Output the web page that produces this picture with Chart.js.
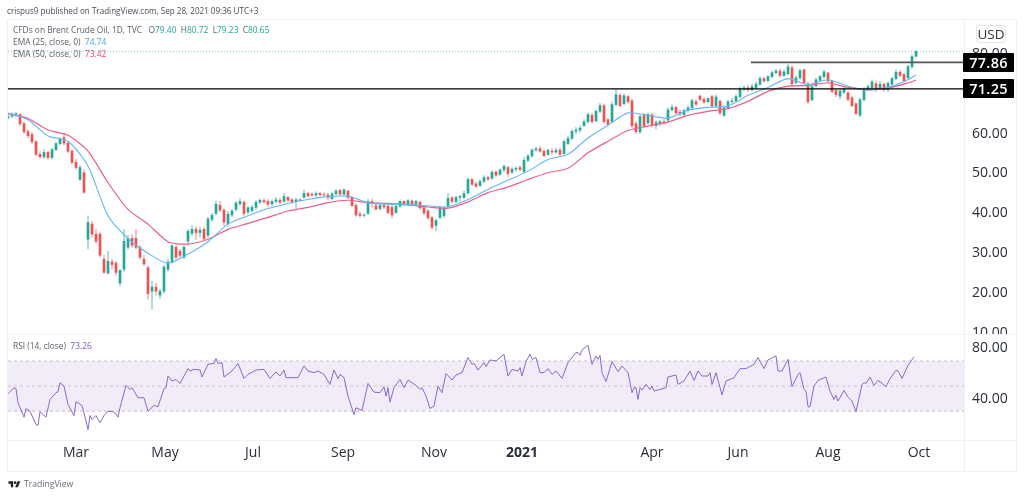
<!DOCTYPE html>
<html><head><meta charset="utf-8">
<style>
html,body{margin:0;padding:0;background:#fff;width:1024px;height:496px;overflow:hidden;font-family:"Open Sans",sans-serif}
#wrap{position:relative;width:1024px;height:496px}
canvas{position:absolute;left:0;top:0}
.t{position:absolute;white-space:pre;font-size:8.4px;line-height:12px;color:#5d606b}
.r{position:absolute;background:#eff1f7}
.pl{position:absolute;background:#000;color:#fff;font-size:14.5px;font-weight:600;text-align:center;border-radius:1px;letter-spacing:.3px}
</style></head><body><div id="wrap">
<canvas id="c" width="1024" height="496" style="width:1024px;height:496px"></canvas>
<div class="r" style="left:7px;top:19px;width:1010px;height:1px"></div>
<div class="r" style="left:7px;top:19px;width:1px;height:452px"></div>
<div class="r" style="left:1016px;top:19px;width:1px;height:452px"></div>
<div class="r" style="left:7px;top:471px;width:1010px;height:1px"></div>
<div class="r" style="left:8px;top:334px;width:1008px;height:1px"></div>
<div style="position:absolute;left:965px;top:335px;width:50px;height:7px;background:#fff"></div>
<div class="r" style="left:8px;top:440px;width:1008px;height:1px"></div>
<div class="r" style="left:964px;top:20px;width:1px;height:451px"></div>
<div class="t" style="left:7px;top:5px;font-size:8.1px;color:#4a4d57">crispus9 published on TradingView.com, Sep 28, 2021 09:36 UTC+3</div>
<div class="t" style="left:13px;top:24px">CFDs on Brent Crude Oil, 1D, TVC   O<span style="color:#26a69a">79.40</span>  H<span style="color:#26a69a">80.72</span>  L<span style="color:#26a69a">79.23</span>  C<span style="color:#26a69a">80.65</span></div>
<div class="t" style="left:13px;top:36px">EMA (25, close, 0)  <span style="color:#42a5f5">74.74</span></div>
<div class="t" style="left:13px;top:48px">EMA (50, close, 0)  <span style="color:#ec407a">73.42</span></div>
<div class="t" style="left:13px;top:340px">RSI (14, close)  <span style="color:#7e57c2">73.26</span></div>
<div style="position:absolute;left:976px;top:25px;width:28px;height:16px;border:1px solid #e3e5ec;border-radius:3px;font-size:13.5px;line-height:16px;text-align:center;color:#333">USD</div>
<div class="pl" style="left:963px;top:53px;width:51px;height:19px;line-height:19px">77.86</div>
<div class="pl" style="left:963px;top:79px;width:51px;height:19px;line-height:19px">71.25</div>
<svg style="position:absolute;left:8px;top:480px" width="13" height="8" viewBox="0 0 36 24"><path fill="#222" d="M14 22H7V11H0V4h14v18zM28 22h-8l7.5-18h8L28 22z"/><circle fill="#222" cx="20" cy="8" r="4"/></svg>
<div class="t" style="left:24px;top:478px;color:#6a6d78;font-size:8.6px">TradingView</div>
</div>
<script src="https://cdn.jsdelivr.net/npm/chart.js@4/dist/chart.umd.min.js"></script>
<script>
const opens=[64,64.4,64.8,64.8,62.5,60.5,59.8,58,54.8,54.2,
55.3,54,56,57.5,59,57.6,55.6,52.8,48.5,50.2,
33.5,37.3,34.8,34.8,28.5,25,27.8,27.5,22.5,26,
31.5,33.7,33.7,31.5,28.5,26.4,20.5,21.5,19.5,20.5,
26,27.7,31.5,30.5,29,33,35,36,35.2,36,
34.5,38.5,40,42,40.8,37.4,39.6,41,42.4,42.8,
40.3,40.7,41.5,42.8,43.2,43,42.4,43,43.3,43,
44,43.4,43,43.4,44,45,44.8,44.6,45,44.7,
44.6,43.7,44.9,45.8,44.8,45.6,44,42,39.8,39.5,
40,43,41.9,41.2,42,41.8,41.5,40.2,41.8,43,
42.2,43.1,42.3,42.8,41.4,40.6,38.9,37,39,39.4,
41.8,43.9,43,44,44,45.1,48.5,47.4,47,48,
49,48.8,50.4,49.8,50.9,51.5,50.3,51.1,51.5,50.5,
53.3,54.4,55.9,56.2,55.6,54.8,55.6,55.4,55.9,55,
57.5,58.8,60.6,60.9,62,63,64.6,63.2,65.6,67,
63.5,63,67.3,69.6,67.5,69.3,68.2,62.5,60.5,64.7,
62.7,64.7,62,62.5,63,63.4,66,66.6,65.4,64.8,
65.8,66.5,68,69.4,68.6,68,69.3,67,68.1,64.6,
66.4,68,68.2,69.3,71.2,71.5,71,71.5,72.4,73.8,
73.3,74.3,75.3,75.7,74.6,75,76.5,72.8,74,76,
72.5,68.5,72,73.4,74.3,75.2,73.1,70.8,69.4,70.4,
70.2,69,67.5,64.6,68.5,71,71.5,72.5,71.3,72.4,
71,72.4,73.8,75.4,74.8,74,76.8,79.4];
const closes=[64.3,64.8,65,62.5,60.5,59.5,58,54.8,54.2,55.3,
54,56,57.5,58.6,57.6,55.6,52.8,51.5,51.5,45.3,
37.7,34.8,33,29.5,25.2,28,27.2,25.2,25.7,33,
33.7,32,31.5,29,27.3,19.9,21.5,20.5,20.5,26.5,
27.8,31.9,29,29.5,31.5,35.5,36,35.2,35.8,33.6,
38.6,39.5,42.3,40.8,37.8,39.8,40.6,42.6,43,40,
41.4,41.5,42.8,43.3,42.9,42.3,43,43.4,42.8,44.2,
43.3,42.9,43.4,43.3,45,44.4,44.6,45,44.7,44.6,
44,44.9,45.6,44.8,45.9,44,42,39.6,39.5,39.6,
43,42.6,41.1,42,41.6,40.2,39.6,41.8,43,42.4,
43.2,42.4,43,41.4,40.1,38.9,36.5,38.2,41.5,41.4,
43.8,43,44,44.2,45,48.5,47.3,46.8,48,49,
48.6,50.3,49.6,50.9,51.8,50,51.1,51.3,51,53.3,
54.4,55.9,56.2,55.6,54.5,55.8,55.4,55.8,54.8,58,
58.8,60.6,60.9,61.4,63,64.8,63,65.6,67,63,
62.3,67.3,69.8,67,69.5,68,62,60.5,64.3,62,
64.8,62,62.8,63,62.8,66,66.6,65.2,64.9,65.8,
66.5,68.3,67.4,68.6,67.9,68.8,66.9,69.2,65.2,66.4,
68,68.2,69.3,71.2,71.5,71,71.8,72.4,73.8,73.2,
74.3,75.3,75.7,74.6,75.5,76.8,72.5,74,75.8,72.8,
68,71.8,73.5,74.3,75.5,73.2,70.6,69.8,70.7,71.3,
68.6,67,65,68.5,71.2,71.8,73,71,72.4,71,
72.6,73.8,75.4,74.6,73.3,76.8,79.3,80.65];
const highs=[64.9,65.2,65.4,65,62.9,61,60.2,58.2,55.5,56,
55.6,56.3,57.8,59,60,58,56,53.5,52,51,
39.4,38,36,35.4,29.5,30.5,28.5,28,26,36,
34.5,34.7,36,32,29.5,26.8,23,22.5,21,27,
28.5,32.2,32,31,32,36,37,36.6,36.5,36.5,
39,40,43,43,41.2,40.5,41,43,43.7,43.2,
41.8,42,43.2,43.6,43.8,43.5,43.4,44,43.8,45,
44.3,43.8,43.8,43.8,45.8,45.3,45.2,45.4,45.3,45.2,
45,45.2,46,46,46.2,45.8,44.3,42.4,40.3,40,
43.6,43.5,42.3,42.4,42.6,42.2,42,42,43.4,43.2,
43.5,43.4,43.3,43.1,41.8,41,39.2,38.6,41.9,41.9,
45,44.2,44.3,44.6,45.5,48.9,48.7,47.8,48.4,49.5,
49.3,50.8,50.7,51.2,52.2,51.8,51.5,51.8,52,54,
54.8,56.2,56.7,56.8,55.9,56.2,56.3,56.4,56.4,58.4,
59.3,61,61.6,62,63.5,65.2,65,66,67.6,67.4,
63.8,68,71.1,70,70,69.6,68.6,63,64.7,65,
65.2,65.1,63.3,63.4,63.6,66.5,67.2,66.9,66,66.2,
67,68.7,68.5,69.7,69,69,69.6,69.7,68.4,67,
68.4,68.8,69.8,71.7,72,72.2,72.4,73,74.3,74.2,
74.6,75.7,76.2,76.2,76,77.4,77,74.5,76.2,76.2,
72.8,72.2,74,74.6,75.9,75.4,73.4,71.2,71.2,71.7,
70.6,69.4,67.8,69,71.6,72.3,73.5,73.2,73.1,72.7,
73,74.2,76,75.8,75.1,77.2,79.7,80.72];
const lows=[63.6,64,64.4,62,60,59,57.5,54.4,53.8,53.7,
53.6,53.6,55.7,57.2,57.2,55.2,52.4,51,48.2,45,
31,34,32.5,29,25,24.8,26,24.5,21.8,25.5,
31,31.5,31,28.5,27,18.5,16,19.5,18.7,20,
25.5,27.5,28.5,29,28.5,32,34.5,33.5,34,33.2,
34,38,39.6,40.5,37,36.8,39.2,40.6,42,39.5,
40,40.3,41,42.5,42.5,41.7,41.9,42.7,42.4,42.8,
43,42.5,41,43,43.8,44,44.3,44.2,44.3,44.2,
43.4,43.4,44.5,44.5,44.5,43.7,41.7,39.2,39,39.1,
39.7,41.5,40.8,40.8,41.2,40,38.9,39.9,41.5,42,
42,42.1,42,41,39.7,38.5,36,35.6,38.6,39,
41.5,42.6,42.6,43.2,43.7,44.9,47,46.5,46.7,47.7,
48.2,48.5,49.3,49.5,50.6,49.2,50,50.6,50.7,50.2,
53,54.1,55.6,55.3,54.2,54.5,54.9,55,54.4,54.7,
57.2,58.5,60,60.3,61.8,62.6,62.7,63,65.2,62.6,
62,62.8,67,66.8,67.2,67.6,61.5,60,60,61.5,
62.3,61.6,61.2,62,62.3,63,65.7,64.9,64.6,64.5,
65.3,66.2,67,68.2,67.6,67.7,66.5,66.8,64.8,64.3,
66.1,67.6,68,69,70.8,70.6,70.7,71.2,72.1,72.9,
73,74,75,74.2,74.2,74.7,71.8,72.4,73.6,72.5,
67.4,68.2,71.7,73,74,72.9,70.2,69.3,68.8,70,
68.2,66.7,64.8,64.3,68.2,70.7,71.2,70.6,71,70.7,
70.5,72.1,73.5,74.3,73,73.7,76.5,79.23];
const emaSessions=[0,10,20,30,40,50,60,70,80,90,100,110,120,130,140,150,160,170,180,190,200,210,220,230,240,250,260,270,280,290,300,310,320,330,340,350,360,370,380,390,400,410,420,430,440,450,454];
const ema25=[65.2,63.5,59.4,58.1,51.9,39.4,33.7,30,27.5,29.8,32.9,37.3,39.4,41.2,42.5,43.5,44.2,44.3,42.7,42.3,42.3,41.9,41.6,43.5,46,48.3,50.6,53.5,54.8,58.9,62.1,65.2,64.6,63.9,65.9,66.6,66.9,69.6,71.6,73.8,72.3,73.5,71.9,71,71.6,73.5,74.74];
const ema50=[65,63.8,60.9,59.6,55.6,47.7,41,37.3,32.9,32.3,33.5,36,37.5,39,40.6,41.5,42.7,43.3,42.7,42.5,42.1,41.6,41.3,42.9,45.2,46.6,48.5,50.2,51.3,55.2,58.1,60.8,61.9,62.9,64.6,65.6,66.3,68.1,70.6,71.9,72.1,72.7,71.6,71,71.4,72.7,73.42];
const rsiSessions=[0,3,4,5,8,9,11,14,15,16,19,21,24,25,26,28,30,33,34,37,38,40,41,42,44,46,48,50,53,55,56,59,61,62,65,68,70,73,75,78,79,80,82,84,86,90,91,93,96,97,100,103,104,105,107,108,112,115,118,120,124,128,131,134,136,138,139,143,145,148,150,153,155,158,161,163,165,166,168,170,173,174,177,180,183,186,188,189,190,191,193,196,198,200,204,206,207,209,211,213,215,217,219,222,224,227,230,232,233,235,238,239,241,244,248,250,252,255,256,257,259,261,262,264,266,268,270,272,274,277,280,284,285,286,287,290,292,294,295,296,297,299,302,305,307,310,312,313,314,315,316,317,319,321,322,323,329,330,334,335,338,341,343,345,347,350,351,352,354,357,359,363,366,369,373,375,378,380,384,385,387,390,392,395,396,398,399,400,401,403,405,409,411,413,414,415,418,420,422,424,427,428,429,431,433,435,437,439,441,444,445,447,450,453];
const rsiValues=[43.9,48.7,47.9,36.7,25.2,31.9,30,19.3,18.8,29.5,25.2,39.3,44.7,45.5,52.7,50,35.3,26.5,37.5,34.5,28.7,15.3,26.5,23.3,26.5,20.7,26.5,30,29.5,25.2,32.7,50.5,47.3,48.7,40.7,40.7,30,34.5,33.5,47.9,48.7,58,54,55.3,52.1,63.9,62,63.3,62.8,57.2,67.3,68.1,71.9,67.9,68.7,57.2,62,67.9,56.1,59.3,62.8,63.3,56.1,61.2,58,62.8,56.7,56.7,56.7,66,62,60.7,62,59.3,51.3,62.8,55.9,59.3,56.7,42,27.3,32.7,30.5,52.1,45.2,44.7,49.5,42,48.7,37.2,48.7,55.3,48.7,54.8,50.5,47.3,48.7,42,32.1,34,50,44.7,60.1,54.8,58.8,60.7,72.7,67.3,68.1,62.8,68.7,65.5,70.8,70,75.3,58,63.3,62,64.7,58,69.5,75.3,71.3,72.7,60.7,60.7,63.9,59.3,62,56.1,68.7,76.7,76.7,74.5,78.8,82.5,67.3,74,71.3,74.5,60.7,53.5,69.5,61.5,66,60.7,44.7,48.7,48.7,39.3,48.7,46.8,51.3,47.3,50,46,48.7,57.2,58.8,51.3,54,62,54.5,62,58,58,60.7,51.3,60.7,42.8,54,56.7,63.9,63.9,67.3,72.7,63.9,70.8,74,62,62,71.3,49.5,59.3,60.7,47.3,46,33.5,33.5,50,54.5,57.2,46,39.3,42.5,38,46.5,41.2,38,29.5,51.3,52.7,52.1,57.2,50.5,54.5,52.1,49.5,55.9,62.5,62,56.1,66.5,73.3];
const xTickSessions=[34,78.5,122.5,167.5,213,257,322,365,410,455.5];
const xTickLabels=["Mar","May","Jul","Sep","Nov","2021","Apr","Jun","Aug","Oct"];
const priceTicks=[10,20,30,40,50,60,70,80];
const rsiTicks=[40,80];
const levelA=71.25, levelB=77.86, lastClose=80.65;
const levelBStart=371.5, chartEnd=478;
const rsiBandTop=70, rsiBandMid=50, rsiBandBottom=30;

const up='#26a69a', down='#ef5350';
const sessions=opens.map((_,i)=>i*2);
const colorOf=i=>closes[i]>=opens[i]?up:down;
const wickColorOf=i=>closes[i]>=opens[i]?'rgba(38,166,154,.45)':'rgba(239,83,80,.45)';
const hline=(v,x0,yAxisID,color,width,dash,order,extra)=>Object.assign({type:'line',yAxisID,data:[{x:x0,y:v},{x:chartEnd,y:v}],borderColor:color,borderWidth:width,borderDash:dash||[],pointRadius:0,order},extra||{});
const series=(xs,ys,color,width,yAxisID,order,tension)=>({type:'line',yAxisID,data:xs.map((x,i)=>({x,y:ys[i]})),borderColor:color,borderWidth:width,pointRadius:0,tension,order});

new Chart(document.getElementById('c'),{
 type:'bar',
 data:{datasets:[
  {type:'bar',yAxisID:'y',grouped:false,barThickness:1,order:20,data:sessions.map((x,i)=>({x,y:[lows[i],highs[i]]})),backgroundColor:sessions.map((_,i)=>wickColorOf(i))},
  {type:'bar',yAxisID:'y',grouped:false,barThickness:2,order:15,data:sessions.map((x,i)=>({x,y:[opens[i],closes[i]]})),backgroundColor:sessions.map((_,i)=>colorOf(i))},
  series(emaSessions,ema50,'#ec5f8c',1.2,'y',6,0.25),
  series(emaSessions,ema25,'#64b5f6',1.1,'y',5,0.25),
  hline(lastClose,0,'y','rgba(38,166,154,.6)',1,[1,2],10),
  hline(levelA,0,'y','#000',1.2,[],3),
  hline(levelB,levelBStart,'y','#555',1.6,[],4),
  hline(rsiBandTop,0,'rsi','#c4c4cc',1,[3,3],9,{fill:'+2',backgroundColor:'rgba(136,84,194,.11)'}),
  hline(rsiBandMid,0,'rsi','#d2d2d8',1,[3,3],9),
  hline(rsiBandBottom,0,'rsi','#c4c4cc',1,[3,3],9),
  series(rsiSessions,rsiValues,'#8a68cc',1,'rsi',2,0)
 ]},
 options:{
  responsive:false,animation:false,devicePixelRatio:1,
  layout:{padding:{left:8,right:8,top:20,bottom:25}},
  plugins:{legend:{display:false},tooltip:{enabled:false}},
  scales:{
   x:{type:'linear',position:'bottom',min:0,max:chartEnd,offset:false,
    grid:{display:false,offset:false,drawTicks:false},border:{display:false},
    afterFit(s){s.height=31},
    afterBuildTicks(s){s.ticks=xTickSessions.map(value=>({value}))},
    ticks:{autoSkip:false,maxRotation:0,padding:5,color:'#2a2e39',
     font:c=>({family:'"Open Sans",sans-serif',size:14,weight:xTickLabels[xTickSessions.indexOf(c.tick&&c.tick.value)]==='2021'?'700':'400'}),
     callback:v=>xTickLabels[xTickSessions.indexOf(v)]}},
   y:{type:'linear',position:'right',stack:'p',stackWeight:314,min:9.75,max:88.5,
    grid:{display:false,drawTicks:false},border:{display:false},
    afterFit(s){s.width=52},
    afterBuildTicks(s){s.ticks=priceTicks.map(value=>({value}))},
    ticks:{autoSkip:false,padding:8,color:'#2a2e39',font:{family:'"Open Sans",sans-serif',size:14},callback:v=>v.toFixed(2)}},
   rsi:{type:'linear',position:'right',stack:'p',stackWeight:106,min:7,max:91.5,
    grid:{display:false,drawTicks:false},border:{display:false},
    afterFit(s){s.width=52},
    afterBuildTicks(s){s.ticks=rsiTicks.map(value=>({value}))},
    ticks:{autoSkip:false,padding:8,color:'#2a2e39',font:{family:'"Open Sans",sans-serif',size:14},callback:v=>v.toFixed(2)}}
  }
 }
});
</script></body></html>
